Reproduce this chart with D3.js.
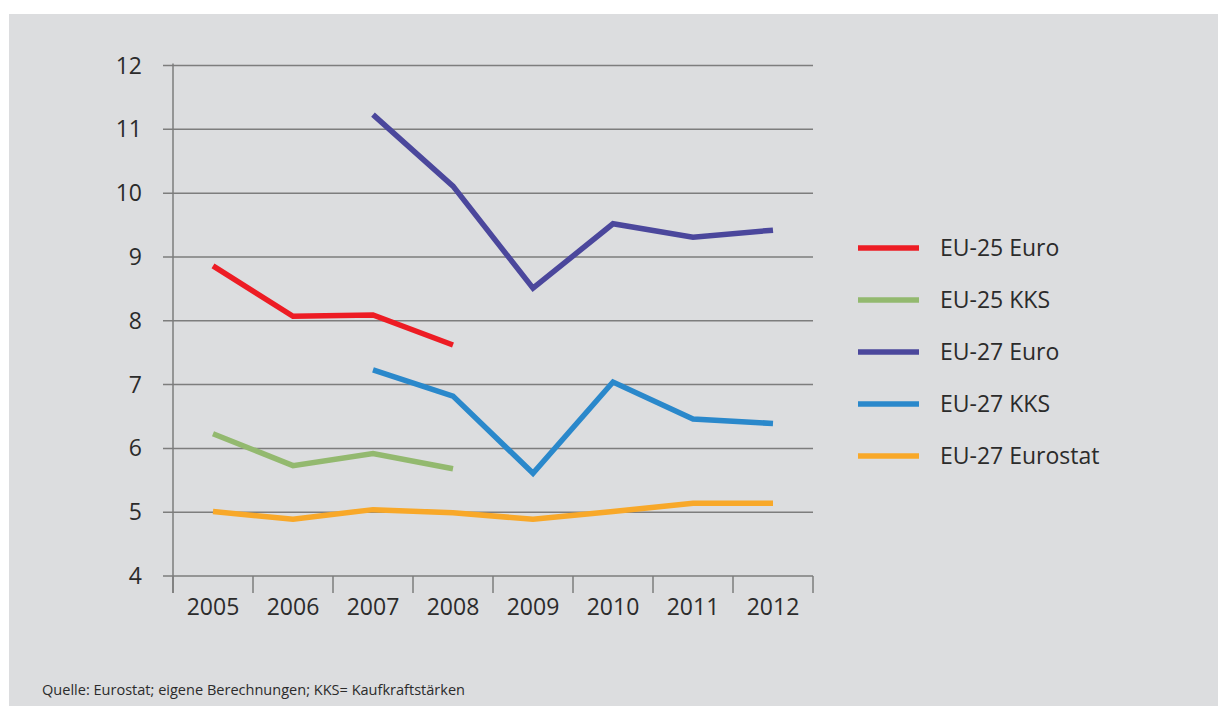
<!DOCTYPE html>
<html>
<head>
<meta charset="utf-8">
<script src="https://cdn.jsdelivr.net/npm/d3@7"></script>
<style>
  body { margin: 0; background: #fff; }
  svg text { font-family: "Open Sans", "Noto Sans", sans-serif; fill: #2b2b2b; }
</style>
</head>
<body>
<div id="chart"></div>
<script>
var years = ['2005','2006','2007','2008','2009','2010','2011','2012'];
var yTicks = [4,5,6,7,8,9,10,11,12];

// null = no value for that year
var eu25Euro     = [8.86, 8.07, 8.09, 7.62, null, null, null, null];
var eu25KKS      = [6.23, 5.73, 5.92, 5.68, null, null, null, null];
var eu27Euro     = [null, null, 11.23, 10.11, 8.51, 9.52, 9.31, 9.42];
var eu27KKS      = [null, null, 7.23, 6.82, 5.61, 7.04, 6.46, 6.39];
var eu27Eurostat = [5.01, 4.89, 5.04, 4.99, 4.89, 5.01, 5.14, 5.14];

var seriesNames  = ['EU-25 Euro','EU-25 KKS','EU-27 Euro','EU-27 KKS','EU-27 Eurostat'];
var seriesValues = [eu25Euro, eu25KKS, eu27Euro, eu27KKS, eu27Eurostat];
var seriesColors = ['#ed1c24','#93b96f','#4b479c','#2a88cb','#f8a829'];

var svgWidth = 1218, svgHeight = 709;
var margin = ({top: 65.5, right: 405, bottom: 133, left: 173});

var svg = d3.select("#chart")
    .append("svg")
    .attr("width", svgWidth)
    .attr("height", svgHeight);

// grey panel
svg.append("rect")
    .attr("x", 9).attr("y", 14)
    .attr("width", svgWidth - 9).attr("height", 692)
    .attr("fill", "#dcdddf");

var xScale = d3.scaleBand()
    .domain(years)
    .range([margin.left, svgWidth - margin.right]);

var yScale = d3.scaleLinear()
    .domain([4, 12])
    .range([576, margin.top]);

var axisColor = '#7d7d7d';

// horizontal grid lines (incl. left tick stubs)
svg.selectAll('.grid')
    .data(yTicks)
    .enter()
    .append('line')
    .classed('grid', true)
    .attr('x1', margin.left - 10)
    .attr('x2', svgWidth - margin.right)
    .attr('y1', d => yScale(d))
    .attr('y2', d => yScale(d))
    .attr('stroke', axisColor)
    .attr('stroke-width', 1.5);

// y axis line
svg.append('line')
    .attr('x1', margin.left).attr('x2', margin.left)
    .attr('y1', yScale(12) - 2).attr('y2', 593)
    .attr('stroke', axisColor)
    .attr('stroke-width', 1.5);

// y labels
svg.selectAll('.ylab')
    .data(yTicks)
    .enter()
    .append('text')
    .classed('ylab', true)
    .attr('x', 142)
    .attr('y', d => yScale(d))
    .attr('dy', '0.35em')
    .attr('text-anchor', 'end')
    .attr('font-size', 23)
    .text(d => d);

// x tick marks at band boundaries
var boundaries = years.map(d => xScale(d)).concat([xScale.range()[1]]);
svg.selectAll('.xtick')
    .data(boundaries)
    .enter()
    .append('line')
    .classed('xtick', true)
    .attr('x1', d => d).attr('x2', d => d)
    .attr('y1', yScale(4)).attr('y2', 593)
    .attr('stroke', axisColor)
    .attr('stroke-width', 1.5);

// x labels
svg.selectAll('.xlab')
    .data(years)
    .enter()
    .append('text')
    .classed('xlab', true)
    .attr('x', d => xScale(d) + xScale.bandwidth() / 2)
    .attr('y', 615)
    .attr('text-anchor', 'middle')
    .attr('font-size', 23)
    .text(d => d);

// lines
var line = d3.line()
    .defined(d => d.v !== null)
    .x(d => xScale(d.year) + xScale.bandwidth() / 2)
    .y(d => yScale(d.v));

seriesValues.forEach(function(vals, i) {
    var pts = vals.map((v, j) => ({year: years[j], v: v}));
    svg.append('path')
        .datum(pts)
        .attr('d', line)
        .attr('fill', 'none')
        .attr('stroke', seriesColors[i])
        .attr('stroke-width', 5.5)
        .attr('stroke-linejoin', 'miter');
});

// legend
var legend = svg.append('g');
legend.selectAll('.legLine')
    .data(seriesNames)
    .enter()
    .append('line')
    .classed('legLine', true)
    .attr('x1', 858).attr('x2', 919)
    .attr('y1', (d, i) => 248 + i * 52)
    .attr('y2', (d, i) => 248 + i * 52)
    .attr('stroke', (d, i) => seriesColors[i])
    .attr('stroke-width', 5.5);

legend.selectAll('.legText')
    .data(seriesNames)
    .enter()
    .append('text')
    .classed('legText', true)
    .attr('x', 940)
    .attr('y', (d, i) => 248 + i * 52)
    .attr('dy', '0.35em')
    .attr('font-size', 23)
    .text(d => d);

// source note
svg.append('text')
    .attr('x', 42)
    .attr('y', 695)
    .attr('font-size', 15)
    .attr('textLength', 423)
    .attr('lengthAdjust', 'spacingAndGlyphs')
    .style('font-family', '"Liberation Sans Narrow", "Open Sans", sans-serif')
    .text('Quelle: Eurostat; eigene Berechnungen; KKS= Kaufkraftstärken');
</script>
</body>
</html>
